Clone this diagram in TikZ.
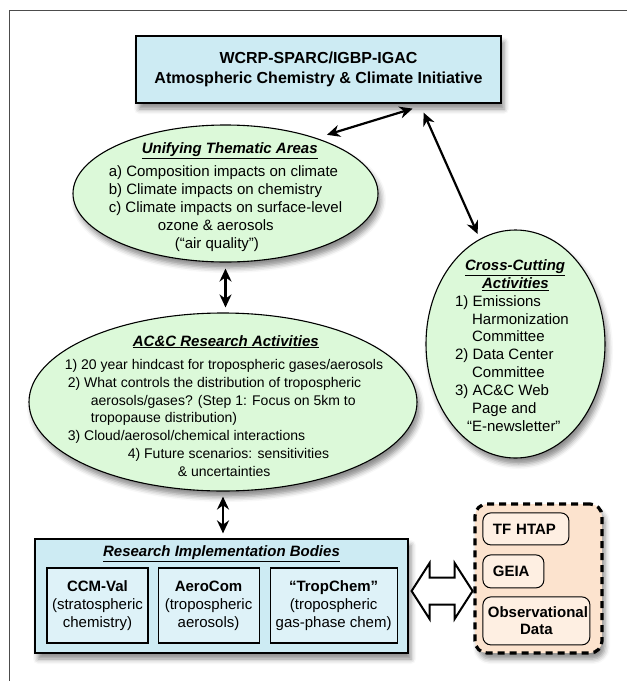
\documentclass[tikz,border=0pt]{standalone}
\usepackage{fontspec}
\setmainfont{Liberation Sans}
\usetikzlibrary{positioning,arrows.meta,shapes.geometric,shadows.blur}
\definecolor{topblue}{HTML}{CDEBF3}
\definecolor{cellblue}{HTML}{DEF2F8}
\definecolor{mint}{HTML}{DCF9D9}
\definecolor{peach}{HTML}{FCE3CE}
\definecolor{paleorange}{HTML}{FEEFE2}
\newcommand{\areahead}[1]{\underline{\textbf{\textit{#1}}}}

\begin{document}
\begin{tikzpicture}[x=1pt, y=-1pt,
  txt/.style={font=\fontsize{15}{17.9}\selectfont, inner sep=0pt, align=left},
  softshadow/.style={blur shadow={shadow xshift=3pt, shadow yshift=-6pt, shadow blur radius=5pt, shadow opacity=45}},
  bubble/.style={ellipse, draw, line width=1.1pt, fill=mint, softshadow},
  bluebox/.style={rectangle, draw, line width=1.2pt, fill=topblue, softshadow},
  cell/.style={rectangle, draw, line width=1.1pt, fill=cellblue, minimum height=75pt, inner sep=0pt, align=center, font=\fontsize{15}{18}\selectfont},
  tagbox/.style={rectangle, draw, rounded corners=8pt, line width=1pt, fill=paleorange, inner ysep=0pt, font=\bfseries\fontsize{15}{17}\selectfont},
  link/.style={<->, >={Stealth[length=13pt,width=12pt]}, line width=2.2pt}]
  \useasboundingbox (0,0) rectangle (627,681);
  % Frame
  \draw[line width=1.6pt, black!70] (9.5,681) |- (627,10.5);
  % Top box
  \node[bluebox, minimum width=365pt, minimum height=67pt, align=center,
        font=\bfseries\fontsize{16}{20}\selectfont] (title) at (318.5,69.5)
        {WCRP-SPARC/IGBP-IGAC\\Atmospheric Chemistry \& Climate Initiative};
  % Ellipses
  \node[bubble, minimum width=305pt, minimum height=137pt] (unify) at (225.5,193.5) {};
  \node[txt] (unifytxt) at ([yshift=-3.5pt]unify.center)
    {\hspace*{33pt}\areahead{Unifying Thematic Areas}\\[5.2pt]
     a) Composition impacts on climate\\
     b) Climate impacts on chemistry\\
     c) Climate impacts on surface-level\\
     \hspace*{49pt}ozone \& aerosols\\
     \hspace*{66pt}(“air quality”)};
  \node[bubble, minimum width=179pt, minimum height=228pt] (cross) at (515.5,344) {};
  \node[txt] (crosstxt) at ([shift={(-3.5pt,-1.5pt)}]cross.center)
    {\hspace*{10pt}\areahead{Cross-Cutting}\\
     \hspace*{27pt}\areahead{Activities}\\
     1) Emissions\\
     \hspace*{17pt}Harmonization\\
     \hspace*{17pt}Committee\\
     2) Data Center\\
     \hspace*{17pt}Committee\\
     3) AC\&C Web\\
     \hspace*{17pt}Page and\\
     \hspace*{12pt}“E-newsletter”};
  \node[bubble, minimum width=388pt, minimum height=178pt] (acc) at (223,402) {};
  \node[txt, font=\fontsize{14}{17.9}\selectfont] (acctxt) at ([shift={(1pt,-4pt)}]acc.center)
    {\hspace*{68pt}{\fontsize{15}{17.9}\selectfont\areahead{AC\&C Research Activities}}\\[5.2pt]
     1) 20 year hindcast for tropospheric gases/aerosols\\
     \hspace*{3pt}2) What controls the distribution of tropospheric\\
     \hspace*{26pt}aerosols/gases? (Step 1: Focus on 5km to\\
     \hspace*{26pt}tropopause distribution)\\
     \hspace*{3pt}3) Cloud/aerosol/chemical interactions\\
     \hspace*{63pt}4) Future scenarios: sensitivities\\
     \hspace*{113pt}\& uncertainties};
  % Research bodies
  \node[bluebox, minimum width=373pt, minimum height=114pt] (rib) at (221.5,596) {};
  \node[txt, below=7pt of rib.north] (ribhead) {\areahead{Research Implementation Bodies}};
  \node[cell, minimum width=101pt, below right=29pt and 12pt of rib.north west] (ccm)
    {\textbf{CCM-Val}\\(stratospheric\\chemistry)};
  \node[cell, minimum width=101pt, right=9pt of ccm] (aero)
    {\textbf{AeroCom}\\(tropospheric\\aerosols)};
  \node[cell, minimum width=127pt, right=10pt of aero] (trop)
    {\textbf{“TropChem”}\\(tropospheric\\gas-phase chem)};
  % Partner box
  \node[draw, dashed, dash pattern=on 7pt off 5pt, line width=3.2pt, rounded corners=12pt,
        fill=peach, softshadow, minimum width=127pt, minimum height=149pt] (partners) at (538.5,578.5) {};
  \node[tagbox, minimum height=32pt, inner xsep=10pt, text width=66pt, align=left,
        below right=10pt and 9pt of partners.north west] (tf) {TF HTAP};
  \node[tagbox, minimum height=33pt, inner xsep=10pt, text width=41pt, align=left,
        below right=9pt and 0pt of tf.south west] (geia) {GEIA};
  \node[tagbox, minimum height=48pt, inner xsep=5pt, text width=97pt, align=center,
        below right=8pt and 0pt of geia.south west] (obs) {Observational\\Data};
  % Arrows
  \draw[link] ([shift={(-89pt,-5pt)}]title.south east) -- ([yshift=7pt]unify.27);
  \draw[link] ([shift={(-78pt,-9pt)}]title.south east) -- ([yshift=6pt]cross.110);
  \draw[link, shorten <=6pt, shorten >=5pt] (unify.south) -- (unify.south |- acc.north);
  \draw[link, shorten <=5pt, shorten >=5pt] (acc.south) -- (acc.south |- rib.north);
  \coordinate (hl) at ([shift={(3pt,5pt)}]rib.east);
  \draw[line width=2pt, fill=white, miter limit=10] (hl) -- ++(18,-28) -- ++(0,14.5) -- ++(25,0)
    -- ++(0,-14.5) -- ++(18,28) -- ++(-18,28) -- ++(0,-14.5) -- ++(-25,0) -- ++(0,14.5) -- cycle;
\end{tikzpicture}
\end{document}
